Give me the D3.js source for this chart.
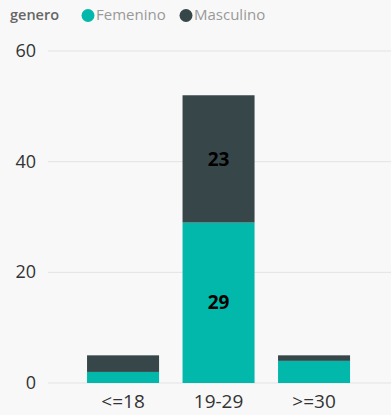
<!DOCTYPE html>
<html><head><meta charset="utf-8">
<script src="https://cdn.jsdelivr.net/npm/d3@7"></script>
<style>
html,body{margin:0;padding:0;background:#f8f8f8;}
svg{display:block;}
</style></head><body>
<script>
const categories = ["<=18", "19-29", ">=30"];
const femenino = [2, 29, 4];
const masculino = [3, 23, 1];
const seriesNames = ["Femenino", "Masculino"];
const yTicks = [0, 20, 40, 60];

const W = 391, H = 415;
const colors = {Femenino: "#01B8AA", Masculino: "#374649"};
const svg = d3.select("body").append("svg").attr("width", W).attr("height", H)
  .style("background", "#f8f8f8");

const data = categories.map((c, i) => ({cat: c, Femenino: femenino[i], Masculino: masculino[i]}));
const stacked = d3.stack().keys(seriesNames)(data);

const x = d3.scaleBand().domain(categories).range([75.3, 361.8]).paddingInner(0.246).paddingOuter(0.123);
const y = d3.scaleLinear().domain([0, 60]).range([383, 51]);

// gridlines
svg.append("g").selectAll("line").data(yTicks).join("line")
  .attr("x1", 48).attr("x2", W).attr("y1", d => y(d)).attr("y2", d => y(d))
  .attr("stroke", "#e3e3e3").attr("stroke-width", 1);

// y axis labels
const yAxis = d3.axisLeft(y).tickValues(yTicks).tickSize(0).tickPadding(0);
const yg = svg.append("g").attr("transform", "translate(36,0)").call(yAxis);
yg.select(".domain").remove();
yg.selectAll("text").attr("font-family", "'Open Sans', sans-serif").attr("font-size", 18)
  .attr("fill", "#333").attr("text-anchor", "end").attr("dy", "0.3em");

// bars
svg.append("g").selectAll("g").data(stacked).join("g")
  .attr("fill", d => colors[d.key])
  .selectAll("rect").data(d => d).join("rect")
  .attr("x", d => x(d.data.cat)).attr("width", x.bandwidth())
  .attr("y", d => y(d[1])).attr("height", d => y(d[0]) - y(d[1]));

// data labels (only for large segments)
stacked.forEach(s => {
  s.forEach(d => {
    const v = d[1] - d[0];
    if (y(d[0]) - y(d[1]) > 40) {
      svg.append("text")
        .attr("x", x(d.data.cat) + x.bandwidth() / 2)
        .attr("y", (y(d[0]) + y(d[1])) / 2)
        .attr("dy", "0.35em").attr("text-anchor", "middle")
        .attr("font-family", "'Open Sans', sans-serif").attr("font-weight", "bold")
        .attr("font-size", 19).attr("fill", "#000").text(v);
    }
  });
});

// x axis labels
const xAxis = d3.axisBottom(x).tickSize(0).tickPadding(0);
const xg = svg.append("g").attr("transform", "translate(0,408)").call(xAxis);
xg.select(".domain").remove();
xg.selectAll("text").attr("font-family", "'Open Sans', sans-serif").attr("font-size", 19)
  .attr("fill", "#333").attr("dy", "0");

// legend
const lg = svg.append("g").attr("font-family", "'Open Sans', sans-serif").attr("font-size", 15);
lg.append("text").attr("x", 10).attr("y", 20).attr("fill", "#666").attr("font-weight", 600).attr("font-size", 14.5).text("genero");
const legendX = [81, 179];
seriesNames.forEach((n, i) => {
  lg.append("circle").attr("cx", legendX[i] + 7).attr("cy", 15.5).attr("r", 6.5).attr("fill", colors[n]);
  lg.append("text").attr("x", legendX[i] + 15).attr("y", 20).attr("fill", "#999").text(n);
});
</script>
</body></html>
